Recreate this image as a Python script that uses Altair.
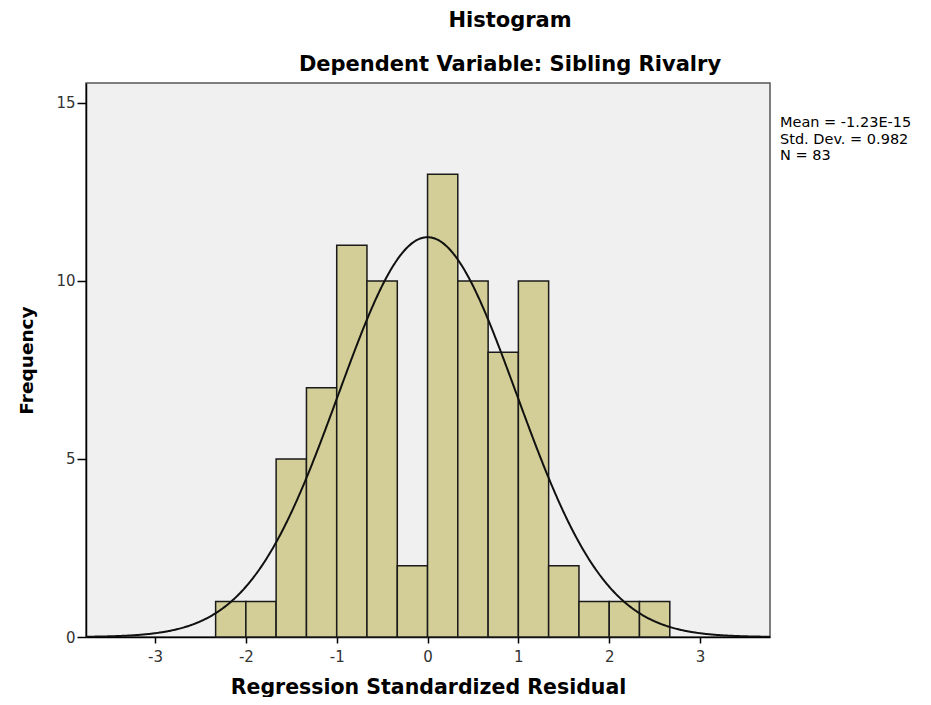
import altair as alt
import pandas as pd

# ---- data ----
bin_start = [-2.333, -2.0, -1.667, -1.333, -1.0, -0.667, -0.333, 0.0, 0.333, 0.667, 1.0, 1.333, 1.667, 2.0, 2.333]
bin_end = [-2.0, -1.667, -1.333, -1.0, -0.667, -0.333, 0.0, 0.333, 0.667, 1.0, 1.333, 1.667, 2.0, 2.333, 2.667]
counts = [1, 1, 5, 7, 11, 10, 2, 13, 10, 8, 10, 2, 1, 1, 1]

x_ticks = [-3, -2, -1, 0, 1, 2, 3]
y_ticks = [0, 5, 10, 15]
x_domain = [-3.76, 3.77]
y_domain = [0, 15.56]

stat_mean = -1.23e-15
stat_sd = 0.982
stat_n = 83
stat_lines = ["Mean = -1.23E-15", "Std. Dev. = 0.982", "N = 83"]

title_text = "Histogram"
subtitle_text = "Dependent Variable: Sibling Rivalry"
x_title = "Regression Standardized Residual"
y_title = "Frequency"

bars_df = pd.DataFrame({"start": bin_start, "end": bin_end, "count": counts})
bin_w = bin_end[0] - bin_start[0]

x_scale = alt.Scale(domain=x_domain, nice=False, zero=False)
y_scale = alt.Scale(domain=y_domain, nice=False)

x_axis = alt.Axis(
    title=x_title, values=x_ticks, labelExpr="'' + datum.value", grid=False,
    labelFont="DejaVu Sans", labelFontSize=15, labelColor="#333333",
    labelPadding=6, tickSize=6, tickColor="black", tickWidth=1.5,
    domainColor="black", domainWidth=1.5,
    titleFont="DejaVu Sans", titleFontSize=20.5, titleFontWeight="bold",
    titleColor="black", titlePadding=13,
)
y_axis = alt.Axis(
    title=y_title, values=y_ticks, labelExpr="'' + datum.value", grid=False,
    labelFont="DejaVu Sans", labelFontSize=15, labelColor="#333333",
    labelPadding=2, tickSize=9, tickColor="black", tickWidth=1.5,
    domainColor="black", domainWidth=1.5,
    titleFont="DejaVu Sans", titleFontSize=18.5, titleFontWeight="bold",
    titleColor="black", titlePadding=19,
)

bars = alt.Chart(bars_df).mark_bar(
    color="#D3CE97", stroke="#1a1a1a", strokeWidth=1.5
).encode(
    x=alt.X("start:Q", scale=x_scale, axis=x_axis),
    x2="end:Q",
    y=alt.Y("count:Q", scale=y_scale, axis=y_axis),
    y2=alt.datum(0),
)

curve = alt.Chart(alt.sequence(x_domain[0], x_domain[1] + 0.01, 0.01, as_="r")).transform_calculate(
    f=f"{stat_n} * {bin_w} * densityNormal(datum.r, {stat_mean}, {stat_sd})"
).mark_line(color="#111111", strokeWidth=2, clip=True).encode(
    x=alt.X("r:Q", scale=x_scale),
    y=alt.Y("f:Q", scale=y_scale),
)

stats = alt.Chart(pd.DataFrame({"k": [0]})).mark_text(
    align="left", baseline="alphabetic", font="DejaVu Sans", fontSize=14.5,
    lineHeight=16.5, color="black",
).encode(
    x=alt.value(694),
    y=alt.value(44),
    text=alt.value(stat_lines),
)

chart = alt.layer(bars, curve, stats).properties(
    width=684,
    height=554,
    background="white",
    padding={"left": 78, "top": 75, "right": 145, "bottom": 60},
    autosize=alt.AutoSizeParams(type="none"),
    title=alt.TitleParams(
        text=title_text, subtitle=subtitle_text,
        font="DejaVu Sans", fontSize=21, fontWeight="bold", color="black",
        subtitleFont="DejaVu Sans", subtitleFontSize=21, subtitleFontWeight="bold",
        subtitleColor="black", anchor="middle", dx=82, offset=8, subtitlePadding=23,
    ),
).configure_view(
    fill="#F0F0F0", stroke="#555555", strokeWidth=1.5
)

chart.save("out.html", embed_options={"renderer": "svg", "actions": False})
